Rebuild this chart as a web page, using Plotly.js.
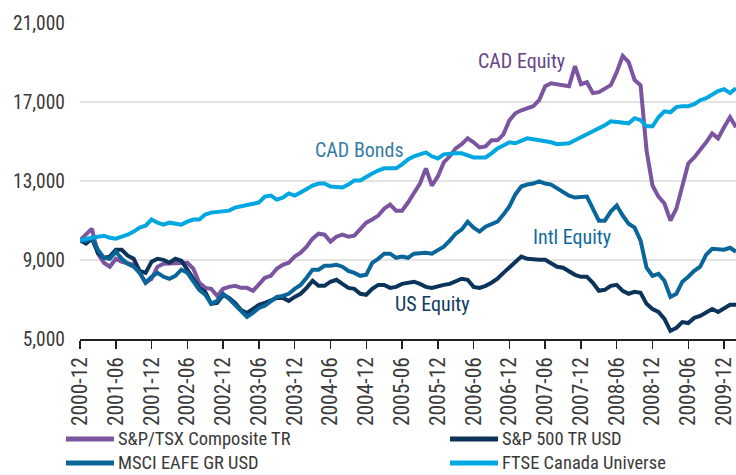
<!DOCTYPE html>
<html>
<head>
<meta charset="utf-8">
<script src="https://cdn.plot.ly/plotly-3.0.1.min.js"></script>
<style>
html,body{margin:0;padding:0;background:#fff;}
#chart{width:736px;height:475px;}
</style>
</head>
<body>
<div id="chart"></div>
<script>
const months = [
"2000-12","2001-01","2001-02","2001-03","2001-04","2001-05","2001-06","2001-07","2001-08","2001-09","2001-10","2001-11",
"2001-12","2002-01","2002-02","2002-03","2002-04","2002-05","2002-06","2002-07","2002-08","2002-09","2002-10","2002-11",
"2002-12","2003-01","2003-02","2003-03","2003-04","2003-05","2003-06","2003-07","2003-08","2003-09","2003-10","2003-11",
"2003-12","2004-01","2004-02","2004-03","2004-04","2004-05","2004-06","2004-07","2004-08","2004-09","2004-10","2004-11",
"2004-12","2005-01","2005-02","2005-03","2005-04","2005-05","2005-06","2005-07","2005-08","2005-09","2005-10","2005-11",
"2005-12","2006-01","2006-02","2006-03","2006-04","2006-05","2006-06","2006-07","2006-08","2006-09","2006-10","2006-11",
"2006-12","2007-01","2007-02","2007-03","2007-04","2007-05","2007-06","2007-07","2007-08","2007-09","2007-10","2007-11",
"2007-12","2008-01","2008-02","2008-03","2008-04","2008-05","2008-06","2008-07","2008-08","2008-09","2008-10","2008-11",
"2008-12","2009-01","2009-02","2009-03","2009-04","2009-05","2009-06","2009-07","2009-08","2009-09","2009-10","2009-11",
"2009-12","2010-01","2010-02"];

const tickLabels = ["2000-12","2001-06","2001-12","2002-06","2002-12","2003-06","2003-12","2004-06","2004-12",
"2005-06","2005-12","2006-06","2006-12","2007-06","2007-12","2008-06","2008-12","2009-06","2009-12"];

const yTicks = [5000, 9000, 13000, 17000, 21000];

const seriesNames = ["S&P/TSX Composite TR","S&P 500 TR USD","MSCI EAFE GR USD","FTSE Canada Universe"];

const tsx = [10000,10280,10590,9320,8860,8660,9060,8910,8860,8760,8350,7850,
8050,8660,8810,8810,8810,8810,8860,8560,7850,7590,7540,7180,
7540,7640,7690,7590,7590,7440,7740,8100,8200,8560,8760,8860,
9170,9370,9670,10080,10330,10280,9930,10180,10280,10180,10230,10540,
10890,11050,11250,11600,11810,11500,11500,11910,12420,12870,13640,12770,
13230,13940,14250,14650,14860,15160,14960,14700,14750,15060,15060,15360,
16070,16430,16580,16680,16790,17090,17800,17950,17900,17850,17800,18820,
17900,18000,17450,17500,17700,17850,18510,19330,19020,18110,17850,14550,
12770,12210,11860,11000,11600,12670,13890,14190,14550,14960,15410,15160,
15720,16230,15720];

const sp500 = [10000,9830,10080,9370,9110,9170,9520,9520,9220,9060,8450,8350,
8910,9060,9010,8860,9060,8960,8510,8050,7590,7390,6780,6830,
7240,7080,6830,6470,6320,6520,6730,6830,6980,7080,7080,6930,
7130,7290,7590,7950,7690,7690,7900,8000,7790,7590,7540,7290,
7240,7540,7740,7740,7590,7640,7790,7850,7900,7790,7640,7590,
7690,7740,7790,7900,8050,8000,7640,7590,7690,7850,8050,8350,
8610,8860,9170,9060,9010,9010,9010,8860,8660,8610,8450,8250,
8150,8150,7850,7440,7490,7690,7740,7440,7290,7390,7340,6780,
6520,6370,6020,5410,5560,5860,5810,6070,6170,6320,6520,6370,
6570,6730,6730];

const eafe = [10000,9980,10130,9520,9110,9060,9420,9060,8810,8660,8350,7850,
8150,8350,8150,8050,8200,8510,8350,7900,7490,7240,6780,6930,
7290,7030,6730,6370,6120,6320,6570,6680,6880,7130,7180,7290,
7540,7740,8100,8510,8510,8710,8710,8760,8660,8450,8350,8200,
8250,8860,9060,9320,9320,9110,9170,9110,9320,9370,9370,9320,
9470,9670,9980,10330,10540,10940,10640,10440,10690,10840,10940,11300,
11710,12320,12720,12820,12870,12980,12870,12820,12620,12420,12260,12160,
12210,12210,11600,10990,10990,11450,11760,11250,10840,10640,9980,8610,
8200,8300,7950,7130,7290,7900,8150,8450,8660,9270,9570,9520,
9520,9620,9420];

const ftse = [10000,10080,10130,10180,10230,10130,10080,10180,10280,10440,10640,10740,
11050,10890,10790,10890,10840,10790,10940,11050,11050,11300,11400,11450,
11450,11500,11650,11710,11760,11810,11910,12210,12260,12060,12160,12370,
12260,12420,12620,12770,12870,12870,12720,12670,12670,12820,13030,13030,
13230,13380,13530,13640,13640,13640,13840,14090,14250,14350,14450,14250,
14140,14350,14400,14400,14400,14300,14190,14190,14190,14400,14650,14800,
14960,14910,15010,15160,15110,15060,15060,14960,14860,14860,14910,15060,
15210,15360,15520,15670,15820,16020,15970,15920,15920,16180,16080,15770,
15770,16230,16530,16480,16740,16790,16790,16890,17090,17190,17400,17550,
17650,17450,17700];

const colors = ["#7B55A0","#0C3359","#0A6699","#00A7E1"];
const font = "Roboto Condensed, DejaVu Sans Condensed, sans-serif";
const textColor = "#3a3a3a";

const data = [tsx, sp500, eafe, ftse].map((vals, k) => ({
  type: "scatter", mode: "lines",
  x: months, y: vals, name: seriesNames[k],
  line: {color: colors[k], width: 4},
  hoverinfo: "skip", showlegend: false
}));

const labels = [
  {text: "CAD Equity", x: 74, y: 19070, color: "#67468A"},
  {text: "CAD Bonds", x: 46.9, y: 14550, color: "#347CA3"},
  {text: "Intl Equity", x: 82.5, y: 10180, color: "#0F6A9C"},
  {text: "US Equity", x: 59, y: 6780, color: "#103B60"}
];

// custom legend (2 columns x 2 rows), positions in pixels converted to paper coords
const W = 736, H = 475, L = 80, R = 0, T = 23, B = 136;
const pw = W - L - R, ph = H - T - B;
const px = v => (v - L) / pw;
const py = v => (H - B - v) / ph;
const legendCols = [66, 450];
const legendRows = [439, 463];
const legendShapes = [], legendTexts = [];
seriesNames.forEach((name, k) => {
  const cx = legendCols[k % 2], cy = legendRows[Math.floor(k / 2)];
  legendShapes.push({type: "line", xref: "paper", yref: "paper",
    x0: px(cx), x1: px(cx + 48), y0: py(cy), y1: py(cy),
    line: {color: colors[k], width: 5}});
  legendTexts.push({text: name, xref: "paper", yref: "paper", x: px(cx + 50), y: py(cy),
    xanchor: "left", yanchor: "middle", showarrow: false,
    font: {family: font, size: 18.5, color: textColor}});
});

const layout = {
  width: W, height: H,
  margin: {l: L, r: R, t: T, b: B, autoexpand: false},
  paper_bgcolor: "#fff", plot_bgcolor: "#fff",
  font: {family: font, size: 19, color: textColor},
  showlegend: false,
  xaxis: {
    type: "category", range: [0, months.length - 1], automargin: false,
    tickmode: "array", tickvals: tickLabels, ticktext: tickLabels,
    tickangle: -90, ticks: "outside", ticklen: 8, tickwidth: 1.5, tickcolor: "#222",
    showline: true, linecolor: "#222", linewidth: 1.5,
    showgrid: false, zeroline: false,
    tickfont: {family: font, size: 21.5, color: textColor}
  },
  yaxis: {
    range: [5000, 21000], tickmode: "array", tickvals: yTicks, automargin: false,
    tickformat: ",d", showgrid: true, gridcolor: "#e3e3e3", gridwidth: 1.5,
    zeroline: false, showline: false, ticks: "", ticklabelstandoff: 14,
    tickfont: {family: font, size: 19.5, color: textColor}
  },
  shapes: legendShapes,
  annotations: labels.map(a => ({
    text: a.text, x: a.x, y: a.y, xref: "x", yref: "y", showarrow: false,
    font: {family: font, size: 20, color: a.color}
  })).concat(legendTexts)
};

Plotly.newPlot("chart", data, layout, {displayModeBar: false, staticPlot: true});
</script>
</body>
</html>
